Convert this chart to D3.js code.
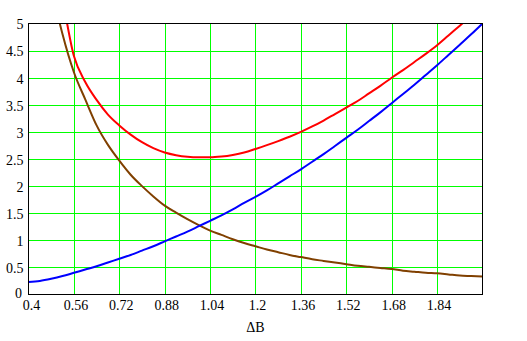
<!DOCTYPE html>
<html>
<head>
<meta charset="utf-8">
<script src="https://cdn.jsdelivr.net/npm/d3@7"></script>
<style>
  html, body { margin: 0; padding: 0; background: #fff; }
  svg { display: block; }
  text { font-family: "Liberation Serif", "Times New Roman", serif; font-size: 14px; fill: #000; }
</style>
</head>
<body>
<svg id="chart" width="527" height="341"></svg>
<script>
// ΔB sample points shared by the three curves
const deltaB = [0.40, 0.44, 0.48, 0.52, 0.56, 0.60, 0.64, 0.68, 0.72, 0.76, 0.80, 0.84, 0.88, 0.92, 0.96,
                1.00, 1.04, 1.08, 1.12, 1.16, 1.20, 1.24, 1.28, 1.32, 1.36, 1.40, 1.44, 1.48, 1.52, 1.56,
                1.60, 1.64, 1.68, 1.72, 1.76, 1.80, 1.84, 1.88, 1.92, 1.96, 2.00];

// rising component (blue)
const blueValues = [0.23, 0.25, 0.29, 0.34, 0.40, 0.46, 0.52, 0.59, 0.66, 0.73, 0.81, 0.89, 0.98, 1.07, 1.16,
                    1.26, 1.36, 1.46, 1.57, 1.69, 1.80, 1.92, 2.05, 2.18, 2.31, 2.45, 2.59, 2.74, 2.89, 3.04,
                    3.20, 3.36, 3.53, 3.70, 3.87, 4.05, 4.23, 4.42, 4.61, 4.80, 5.00];

// falling component (brown)
const brownValues = [8.2, 6.8, 5.7, 4.8, 4.1, 3.6, 3.12, 2.76, 2.47, 2.21, 2.00, 1.81, 1.64, 1.51, 1.39,
                     1.28, 1.18, 1.10, 1.02, 0.95, 0.89, 0.83, 0.78, 0.73, 0.69, 0.65, 0.62, 0.59, 0.56, 0.53,
                     0.51, 0.49, 0.47, 0.44, 0.42, 0.40, 0.39, 0.37, 0.35, 0.34, 0.33];

// total (red)
const redValues = [8.4, 7.0, 6.2, 5.42, 4.40, 3.92, 3.59, 3.32, 3.12, 2.95, 2.81, 2.70, 2.62, 2.57, 2.54,
                   2.53, 2.53, 2.545, 2.575, 2.62, 2.685, 2.755, 2.83, 2.91, 3.00, 3.10, 3.21, 3.33, 3.45, 3.57,
                   3.71, 3.85, 4.00, 4.14, 4.29, 4.44, 4.60, 4.78, 4.96, 5.14, 5.32];

const xTickValues = [0.4, 0.56, 0.72, 0.88, 1.04, 1.2, 1.36, 1.52, 1.68, 1.84];
const xTickLabels = ["0.4", "0.56", "0.72", "0.88", "1.04", "1.2", "1.36", "1.52", "1.68", "1.84"];
const yTickValues = [0, 0.5, 1, 1.5, 2, 2.5, 3, 3.5, 4, 4.5, 5];
const yTickLabels = ["0", "0.5", "1", "1.5", "2", "2.5", "3", "3.5", "4", "4.5", "5"];
const xTitle = "ΔB";

const svg = d3.select("#chart");
const plot = { left: 28.5, top: 23.5, right: 482.5, bottom: 294.5 };

const x = d3.scaleLinear().domain([0.4, 2.0]).range([plot.left, plot.right]);
const y = d3.scaleLinear().domain([0, 5]).range([plot.bottom, plot.top]);

svg.append("clipPath").attr("id", "plot-clip")
  .append("rect")
  .attr("x", plot.left).attr("y", plot.top)
  .attr("width", plot.right - plot.left).attr("height", plot.bottom - plot.top);

// grid
const grid = svg.append("g").attr("stroke", "#00ff00").attr("stroke-width", 1.4).attr("shape-rendering", "crispEdges");
grid.selectAll("line.vx").data(xTickValues.slice(1)).join("line")
  .attr("x1", d => Math.round(x(d)) + 0.5).attr("x2", d => Math.round(x(d)) + 0.5)
  .attr("y1", plot.top).attr("y2", plot.bottom);
grid.selectAll("line.hy").data(yTickValues.slice(1, -1)).join("line")
  .attr("y1", d => Math.round(y(d)) + 0.5).attr("y2", d => Math.round(y(d)) + 0.5)
  .attr("x1", plot.left).attr("x2", plot.right);

// curves
const series = [
  { values: brownValues, color: "#804000" },
  { values: blueValues, color: "#0000ff" },
  { values: redValues, color: "#ff0000" }
];
const line = d3.line().x(d => x(d[0])).y(d => y(d[1])).curve(d3.curveMonotoneX);
svg.append("g").attr("clip-path", "url(#plot-clip)")
  .selectAll("path").data(series).join("path")
  .attr("fill", "none")
  .attr("stroke", d => d.color)
  .attr("stroke-width", 2)
  .attr("d", d => line(deltaB.map((b, i) => [b, d.values[i]])));

// frame
svg.append("rect")
  .attr("x", plot.left).attr("y", plot.top)
  .attr("width", plot.right - plot.left).attr("height", plot.bottom - plot.top)
  .attr("fill", "none").attr("stroke", "#000").attr("stroke-width", 1.5)
  .attr("shape-rendering", "crispEdges");

// axes labels
const xAxis = d3.axisBottom(x).tickValues(xTickValues)
  .tickFormat((d, i) => xTickLabels[i]).tickSize(0).tickPadding(5.5);
const gx = svg.append("g").attr("transform", `translate(0,${plot.bottom})`).call(xAxis)
  .attr("font-family", null).attr("font-size", null);
gx.select(".domain").remove();
gx.selectAll("text").attr("dx", d => d === 0.4 ? 2.5 : 1.5);

const yAxis = d3.axisLeft(y).tickValues(yTickValues)
  .tickFormat((d, i) => yTickLabels[i]).tickSize(0).tickPadding(5);
const gy = svg.append("g").attr("transform", `translate(${plot.left},0)`).call(yAxis)
  .attr("font-family", null).attr("font-size", null);
gy.select(".domain").remove();
gy.selectAll("text")
  .attr("dy", d => d === 0 ? "0.2em" : "0.38em")
  .attr("dx", d => d === 0 ? -1.5 : 0);

svg.append("text")
  .attr("x", (plot.left + plot.right) / 2)
  .attr("y", 332)
  .attr("text-anchor", "middle")
  .text(xTitle);
</script>
</body>
</html>
